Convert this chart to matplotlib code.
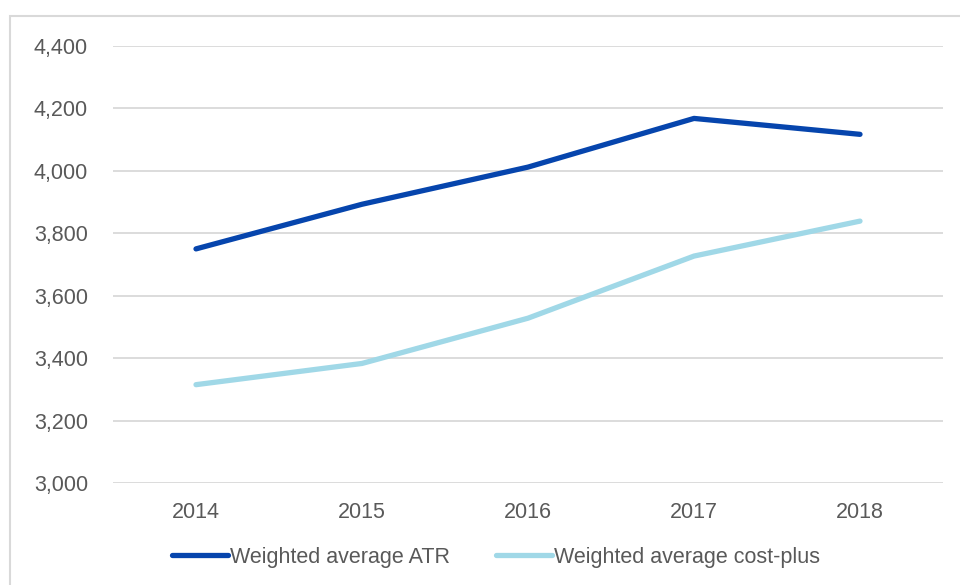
import matplotlib.pyplot as plt
from matplotlib.patches import Rectangle

years = ["2014", "2015", "2016", "2017", "2018"]
atr = [3750, 3893, 4012, 4168, 4117]
cost_plus = [3315, 3383, 3528, 3727, 3839]
yticks = [3000, 3200, 3400, 3600, 3800, 4000, 4200, 4400]

plt.rcParams['font.family'] = ['Liberation Sans', 'DejaVu Sans']

fig = plt.figure(figsize=(9.6, 5.85), dpi=100)
ax = fig.add_axes([113 / 960, 1 - 483 / 585, 830 / 960, 437 / 585])

# outer chart border (cut off at right and bottom like the reference)
fig.patches.append(Rectangle((10 / 960, -0.1), 1.2, 1 - 16 / 585 + 0.1,
                             transform=fig.transFigure, fill=False,
                             edgecolor='#d9d9d9', linewidth=1.5))

x = range(len(years))
ax.plot(x, atr, color='#0645ad', linewidth=3.8, solid_capstyle='round',
        label="Weighted average ATR")
ax.plot(x, cost_plus, color='#a0d8e7', linewidth=3.8, solid_capstyle='round',
        label="Weighted average cost-plus")

ax.set_xlim(-0.5, len(years) - 0.5)
ax.set_ylim(3000, 4400)
ax.set_yticks(yticks)
ax.set_yticklabels([f"{v:,}" for v in yticks])
ax.set_xticks(list(x))
ax.set_xticklabels(years)
ax.grid(axis='y', color='#d9d9d9', linewidth=1.3)
ax.set_axisbelow(True)
for s in ax.spines.values():
    s.set_visible(False)
ax.tick_params(length=0, labelsize=15.5, colors='#595959')
ax.tick_params(axis='y', pad=18)
ax.tick_params(axis='x', pad=14)

leg = fig.legend(loc='center', bbox_to_anchor=(496 / 960, 1 - 557 / 585),
                 ncol=2, frameon=False, fontsize=15.5, handlelength=2.6,
                 handletextpad=0.1, columnspacing=2.1)
for t in leg.get_texts():
    t.set_color('#595959')

fig.savefig("out.png", dpi=100)
